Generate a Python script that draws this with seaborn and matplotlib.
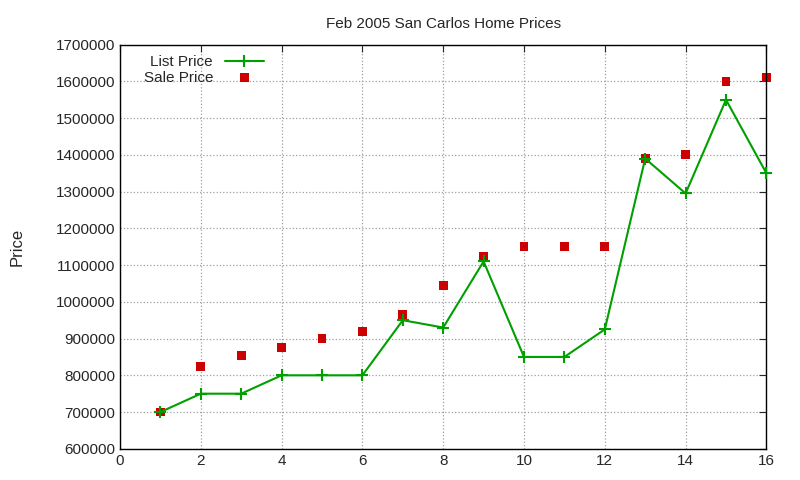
import numpy as np
import matplotlib
matplotlib.use("Agg")
import matplotlib.pyplot as plt
import seaborn as sns

# data
house = list(range(1, 17))
list_price = [700000, 750000, 750000, 800000, 800000, 800000, 950000, 930000,
              1110000, 850000, 850000, 925000, 1390000, 1295000, 1550000, 1350000]
sale_price = [700000, 825000, 855000, 875000, 900000, 920000, 965000, 1045000,
              1125000, 1150000, 1150000, 1150000, 1390000, 1400000, 1600000, 1610000]

sns.set_style("white")
plt.rcParams['font.family'] = ['Liberation Sans', 'DejaVu Sans']

fig = plt.figure(figsize=(8, 4.8), dpi=100)
ax = fig.add_axes([0.15, 0.065, 0.808, 0.842])

sns.scatterplot(x=house, y=sale_price, ax=ax, color="#cc0000", marker="s",
                s=40, edgecolor="none", label="Sale Price", clip_on=False,
                zorder=2)
sns.lineplot(x=house, y=list_price, ax=ax, color="#00a000", marker="+",
             markersize=9, markeredgewidth=1.5, markeredgecolor="#00a000",
             linewidth=1.5, label="List Price", clip_on=False, zorder=3)

ax.set_xlim(0, 16)
ax.set_ylim(600000, 1700000)
ax.set_xticks(range(0, 17, 2))
ax.set_yticks(range(600000, 1700001, 100000))
ax.ticklabel_format(style="plain", axis="y")
ax.grid(True, color="#a0a0a0", linestyle=":", linewidth=0.9)
ax.tick_params(direction="in", length=5, labelsize=11, top=True, right=True)
for s in ax.spines.values():
    s.set_color("black")
    s.set_linewidth(1)

ax.set_title("Feb 2005 San Carlos Home Prices", fontsize=11, pad=12)
ax.set_ylabel("Price", fontsize=12, labelpad=22)
ax.set_xlabel("")

handles, labels = ax.get_legend_handles_labels()
order = [labels.index("List Price"), labels.index("Sale Price")]
ax.legend([handles[i] for i in order], [labels[i] for i in order],
          loc="upper left", bbox_to_anchor=(0.02, 1.0), frameon=False,
          fontsize=11, markerfirst=False, handlelength=2.5,
          borderpad=0.2, labelspacing=0.1)

fig.savefig("out.png", dpi=100)
